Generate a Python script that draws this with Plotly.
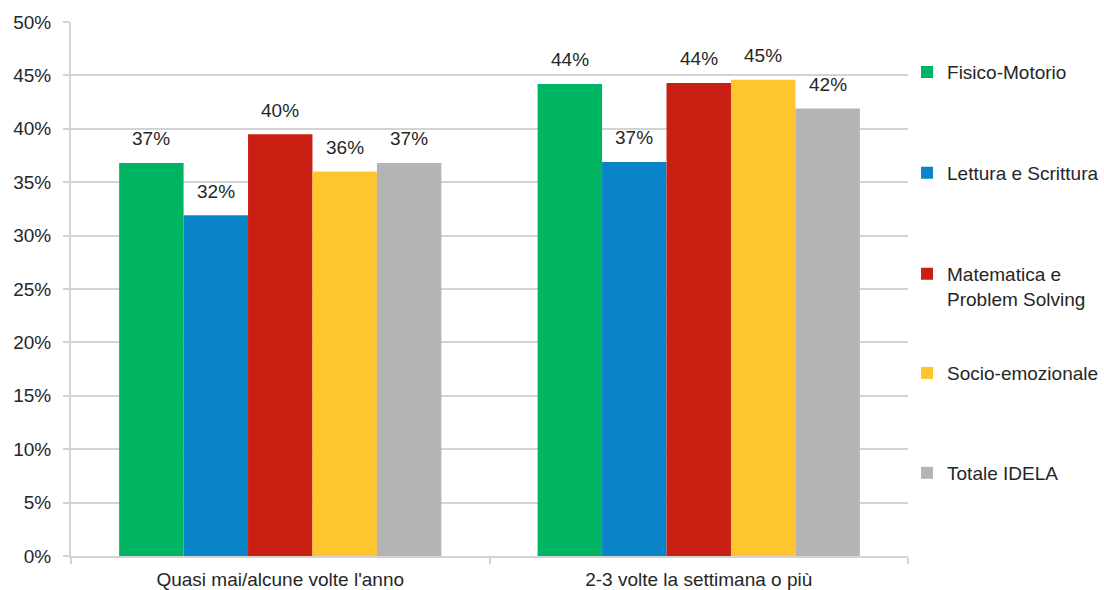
import plotly.graph_objects as go

categories = ["Quasi mai/alcune volte l'anno", "2-3 volte la settimana o più"]
series_names = [
    "Fisico-Motorio",
    "Lettura e Scrittura",
    "Matematica e<br>Problem Solving",
    "Socio-emozionale",
    "Totale IDELA",
]
fisico = [0.368, 0.442]
lettura = [0.319, 0.369]
matematica = [0.395, 0.443]
socio = [0.360, 0.446]
totale = [0.368, 0.419]
series_values = [fisico, lettura, matematica, socio, totale]
colors = ["#00b562", "#0a84c8", "#c81f12", "#fec52e", "#b4b4b4"]
y_ticks = [i / 100 for i in range(0, 55, 5)]

FONT = "Liberation Sans, Arial, sans-serif"
FS = 19
TEXT = "#262626"
GRID = "#d3d3d3"
BARGAP = 0.23

fig = go.Figure()
legend_keys = ["legend", "legend2", "legend3", "legend4", "legend5"]
for i, (name, vals, col) in enumerate(zip(series_names, series_values, colors)):
    fig.add_trace(go.Bar(
        x=categories, y=vals, name=name,
        marker=dict(color=col, line=dict(width=0)),
        legend=legend_keys[i],
        hovertemplate="%{x}<br>%{y:.0%}<extra></extra>",
    ))

# value labels above each bar, placed at the bar centre of the grouped layout
n = len(series_values)
bar_w = (1 - BARGAP) / n
annotations = []
for i, vals in enumerate(series_values):
    for j, v in enumerate(vals):
        annotations.append(dict(
            x=j + (i - (n - 1) / 2) * bar_w, y=v, xref="x", yref="y",
            text=f"{round(v * 100):d}%", showarrow=False,
            yshift=24, font=dict(family=FONT, size=FS, color=TEXT),
        ))

# one legend per series so each entry sits at its own height on the right
layout_legends = {}
legend_tops = [0.906, 0.7175, 0.505, 0.3425, 0.1555]
for key, top in zip(legend_keys, legend_tops):
    layout_legends[key] = dict(
        xref="container", x=0.8216, xanchor="left", y=top, yanchor="middle",
        font=dict(family=FONT, size=FS, color=TEXT),
        bgcolor="rgba(0,0,0,0)", itemwidth=30, valign="top",
    )

fig.update_layout(
    width=1104, height=590,
    margin=dict(l=71, r=196, t=22, b=34, autoexpand=False),
    paper_bgcolor="white", plot_bgcolor="white",
    barmode="group", bargap=BARGAP, bargroupgap=0,
    font=dict(family=FONT, size=FS, color=TEXT),
    showlegend=True,
    annotations=annotations,
    **layout_legends,
)
fig.update_xaxes(
    type="category", showline=True, linecolor=GRID, linewidth=2,
    ticks="outside", tickson="boundaries", ticklen=6, tickcolor=GRID, tickwidth=2,
    ticklabelstandoff=5, automargin=False,
    tickfont=dict(family=FONT, size=FS, color=TEXT),
)
fig.update_yaxes(
    range=[0, 0.5], tickvals=y_ticks, tickformat=".0%",
    showgrid=True, gridcolor=GRID, gridwidth=2,
    showline=True, linecolor=GRID, linewidth=2,
    ticks="outside", ticklen=6, tickcolor=GRID, tickwidth=2,
    ticklabelstandoff=8, automargin=False, zeroline=False,
    tickfont=dict(family=FONT, size=FS, color=TEXT),
)

fig.write_html("out.html")
